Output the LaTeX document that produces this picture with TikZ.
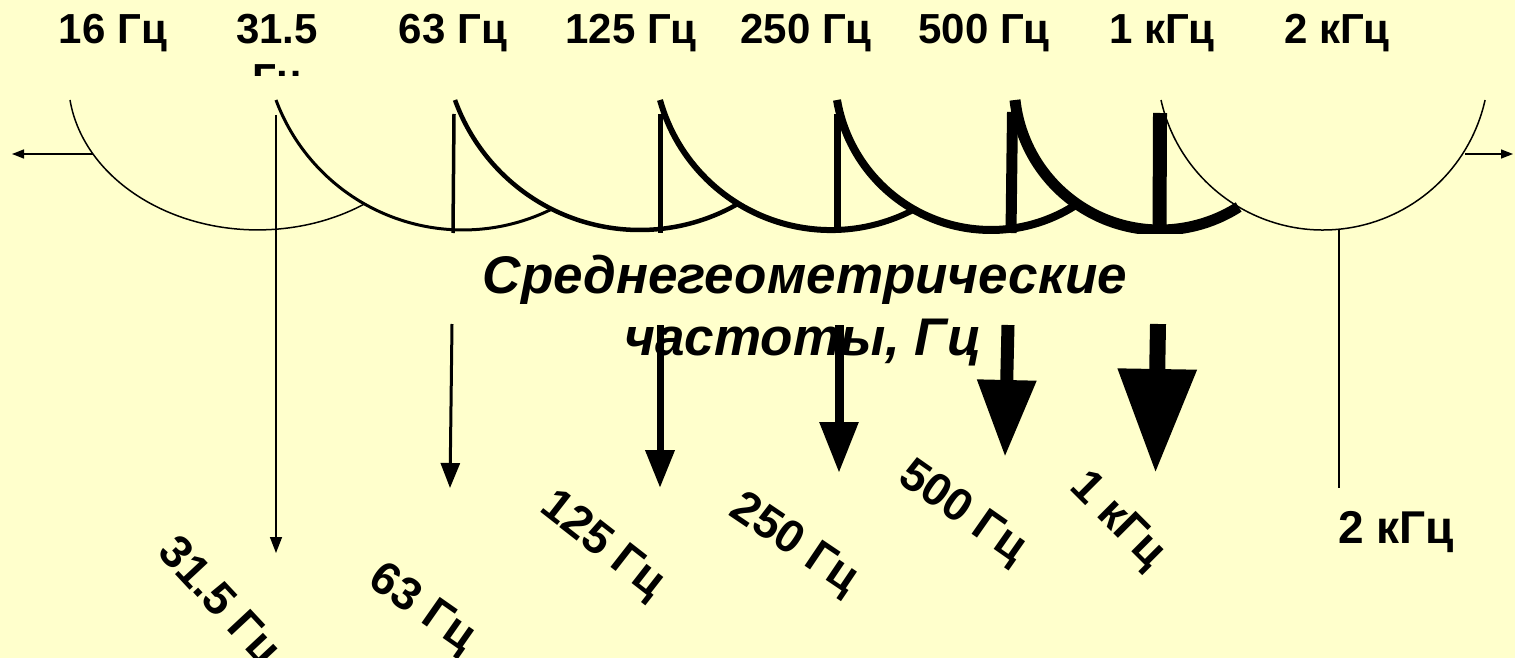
\documentclass[tikz,border=0pt]{standalone}
\usepackage{fontspec}
\setmainfont{Liberation Sans}
\usetikzlibrary{arrows.meta}
\definecolor{bg}{HTML}{FFFFCC}
\begin{document}
\begin{tikzpicture}[x=1pt,y=-1pt,
  toplab/.style={font=\fontsize{42}{50}\selectfont\bfseries, inner sep=0pt, anchor=base},
  botlab/.style={font=\fontsize{46}{54}\selectfont\bfseries, inner sep=0pt},
  midlab/.style={font=\fontsize{53}{64}\selectfont\bfseries\itshape, inner sep=0pt, anchor=base},
  band/.style={line cap=butt},
  axisarrow/.style={line width=1.5pt, -{Triangle[length=12pt,width=9pt]}},
]
\fill[bg] (0,0) rectangle (1515,658);
\useasboundingbox (0,0) rectangle (1515,658);
\clip (0,0) rectangle (1515,658);

% ---- top labels
\node[toplab] (t16)  at (113,44)  {16 Гц};
\node[toplab] (t31)  at (277,44)  {31.5};
\begin{scope}
  \clip (0,0) rectangle (1515,76);
  \node[toplab] (t31b) at (277,94) {Гц};
\end{scope}
\node[toplab] (t63)  at (453,44)  {63 Гц};
\node[toplab] (t125) at (631,44)  {125 Гц};
\node[toplab] (t250) at (806,44)  {250 Гц};
\node[toplab] (t500) at (984,44)  {500 Гц};
\node[toplab] (t1k)  at (1162,44) {1 кГц};
\node[toplab] (t2k)  at (1337,44) {2 кГц};

% ---- middle caption
\node[midlab] (cap1) at (805,293) {Среднегеометрические};
\node[midlab] (cap2) at (803,355) {частоты, Гц};

% ---- arcs (band filters)
\begin{scope}
  \clip (0,0) rectangle (1515,233);
  \draw[band, line width=1.5pt] (70,100)   arc[start angle=187.7,  end angle=304.2,  x radius=189.6pt, y radius=150pt];
  \draw[band, line width=3pt]   (276,100)  arc[start angle=200.4,  end angle=296.4,  radius=199.5pt];
  \draw[band, line width=4.5pt] (455,100)  arc[start angle=199.8,  end angle=299.9,  radius=196.6pt];
  \draw[band, line width=6pt]   (660,100)  arc[start angle=195.5,  end angle=297.8,  radius=177.5pt];
  \draw[band, line width=8pt]   (837,100)  arc[start angle=189.66, end angle=303.4,  radius=156.2pt];
  \draw[band, line width=11pt]  (1015,100) arc[start angle=186.26, end angle=302.6,  radius=145.9pt];
  \draw[band, line width=1.5pt] (1161,100) arc[start angle=192.53, end angle=347.47, radius=166pt];
  % vertical band markers
  \draw[band, line width=3.5pt] (454,114)  -- (453,233);
  \draw[band, line width=5pt]   (660,114)  -- (660,233);
  \draw[band, line width=7pt]   (837,114)  -- (837,233);
  \draw[band, line width=11pt]  (1012.5,112) -- (1011,233);
  \draw[band, line width=14pt]  (1160,113) -- (1159.5,233);
\end{scope}

% ---- axis arrows
\coordinate (axL0) at (93,154);  \coordinate (axL1) at (12,154);
\coordinate (axR0) at (1465,154); \coordinate (axR1) at (1513,154);
\draw[axisarrow] (axL0) -- (axL1);
\draw[axisarrow] (axR0) -- (axR1);

% ---- downward arrows
\coordinate (a31s) at (276,115);  \coordinate (a31e) at (276,553);
\coordinate (a63s) at (452,324);  \coordinate (a63e) at (450,488);
\coordinate (a125s) at (660,325); \coordinate (a125e) at (660,488);
\coordinate (a250s) at (839,325); \coordinate (a250e) at (839,473);
\coordinate (a500s) at (1008,325); \coordinate (a500e) at (1005,457);
\coordinate (a1ks) at (1158,324); \coordinate (a1ke) at (1155.5,473);
\coordinate (a2ks) at (1339,230); \coordinate (a2ke) at (1339,488);
\draw[line width=1.5pt, -{Triangle[length=16pt,width=12pt]}] (a31s) -- (a31e);
\draw[line width=3pt,   -{Triangle[length=25pt,width=19pt]}] (a63s) -- (a63e);
\draw[line width=7pt,   -{Triangle[length=38pt,width=28pt]}] (a125s) -- (a125e);
\draw[line width=9pt,   -{Triangle[length=51pt,width=37pt]}] (a250s) -- (a250e);
\draw[line width=13pt,  -{Triangle[length=77pt,width=56pt]}] (a500s) -- (a500e);
\draw[line width=16pt,  -{Triangle[length=104pt,width=75pt]}] (a1ks) -- (a1ke);
\draw[line width=1.5pt] (a2ks) -- (a2ke);

% ---- rotated labels
\node[botlab, rotate=-47] (b31)  at (218,603)  {31.5 Гц};
\node[botlab, rotate=-35] (b63)  at (422,609)  {63 Гц};
\node[botlab, rotate=-38] (b125) at (602,546)  {125 Гц};
\node[botlab, rotate=-34] (b250) at (794,545)  {250 Гц};
\node[botlab, rotate=-35] (b500) at (962,513)  {500 Гц};
\node[botlab, rotate=-45] (b1k)  at (1117,521) {1 кГц};
\node[botlab, anchor=base] (b2k) at (1396,543) {2 кГц};
\end{tikzpicture}
\end{document}
